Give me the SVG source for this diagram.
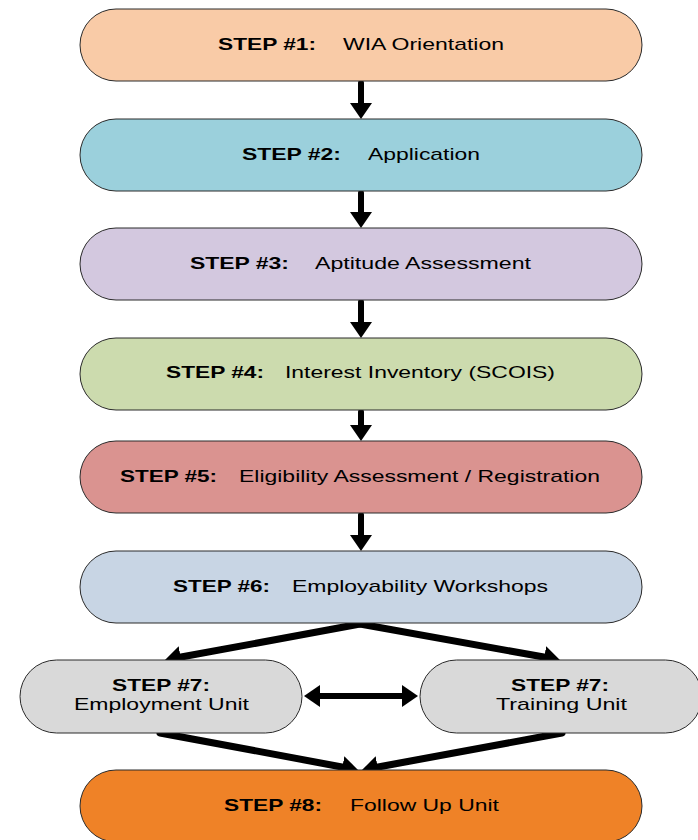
<svg xmlns="http://www.w3.org/2000/svg" width="698" height="840" viewBox="0 0 698 840">
<style>
.n{stroke:#2a2a2a;stroke-width:1}
.t{font-family:"Liberation Sans",Arial,sans-serif;font-size:17px;fill:#000}
.b{font-weight:bold}
.c{stroke:#000;fill:none;stroke-linecap:round}
</style>
<defs>
<marker id="ah" markerUnits="userSpaceOnUse" markerWidth="16" markerHeight="24" viewBox="0 0 16 24" refX="1" refY="12" orient="auto-start-reverse">
<path d="M0,1 L16,12 L0,23 z" fill="#000"/>
</marker>
</defs>
<rect width="698" height="840" fill="#fff"/>
<g id="connectors">
<line class="c" x1="361" y1="83" x2="361" y2="104" stroke-width="6" marker-end="url(#ah)"/>
<line class="c" x1="361" y1="193" x2="361" y2="213" stroke-width="6" marker-end="url(#ah)"/>
<line class="c" x1="361" y1="302" x2="361" y2="323" stroke-width="6" marker-end="url(#ah)"/>
<line class="c" x1="361" y1="412" x2="361" y2="426" stroke-width="6" marker-end="url(#ah)"/>
<line class="c" x1="361" y1="515" x2="361" y2="536" stroke-width="6" marker-end="url(#ah)"/>
<line class="c" x1="360" y1="624" x2="179.7" y2="657.3" stroke-width="7" marker-end="url(#ah)"/>
<line class="c" x1="360" y1="624" x2="545.2" y2="657.3" stroke-width="7" marker-end="url(#ah)"/>
<line class="c" x1="160" y1="733" x2="343.3" y2="767.2" stroke-width="7" marker-end="url(#ah)"/>
<line class="c" x1="562" y1="733" x2="376.7" y2="767.3" stroke-width="7" marker-end="url(#ah)"/>
<line class="c" x1="319" y1="696" x2="403" y2="696" stroke-width="6" style="stroke-linecap:butt" marker-start="url(#ah)" marker-end="url(#ah)"/>
</g>
<g id="step1">
<rect class="n" x="80" y="9" width="562" height="72" rx="36" fill="#F9CBA7"/>
<text class="t b" x="218" y="50" textLength="98" lengthAdjust="spacingAndGlyphs">STEP #1:</text>
<text class="t" x="343" y="50" textLength="161" lengthAdjust="spacingAndGlyphs">WIA Orientation</text>
</g>
<g id="step2">
<rect class="n" x="80" y="119" width="562" height="72" rx="36" fill="#9BD0DC"/>
<text class="t b" x="242" y="160" textLength="99" lengthAdjust="spacingAndGlyphs">STEP #2:</text>
<text class="t" x="368" y="160" textLength="112" lengthAdjust="spacingAndGlyphs">Application</text>
</g>
<g id="step3">
<rect class="n" x="80" y="228" width="562" height="72" rx="36" fill="#D3C8DF"/>
<text class="t b" x="190" y="269" textLength="99" lengthAdjust="spacingAndGlyphs">STEP #3:</text>
<text class="t" x="315" y="269" textLength="216" lengthAdjust="spacingAndGlyphs">Aptitude Assessment</text>
</g>
<g id="step4">
<rect class="n" x="80" y="338" width="562" height="72" rx="36" fill="#CCDBAE"/>
<text class="t b" x="166" y="378" textLength="98" lengthAdjust="spacingAndGlyphs">STEP #4:</text>
<text class="t" x="285" y="378" textLength="270" lengthAdjust="spacingAndGlyphs">Interest Inventory (SCOIS)</text>
</g>
<g id="step5">
<rect class="n" x="80" y="441" width="562" height="72" rx="36" fill="#DA9390"/>
<text class="t b" x="120" y="482" textLength="97" lengthAdjust="spacingAndGlyphs">STEP #5:</text>
<text class="t" x="239" y="482" textLength="361" lengthAdjust="spacingAndGlyphs">Eligibility Assessment / Registration</text>
</g>
<g id="step6">
<rect class="n" x="80" y="551" width="562" height="72" rx="36" fill="#C8D5E4"/>
<text class="t b" x="173" y="592" textLength="97" lengthAdjust="spacingAndGlyphs">STEP #6:</text>
<text class="t" x="292" y="592" textLength="256" lengthAdjust="spacingAndGlyphs">Employability Workshops</text>
</g>
<g id="step7a">
<rect class="n" x="20" y="660" width="282" height="73" rx="36.5" fill="#D9D9D9"/>
<text class="t b" x="112" y="691" textLength="98" lengthAdjust="spacingAndGlyphs">STEP #7:</text>
<text class="t" x="74" y="710" textLength="175" lengthAdjust="spacingAndGlyphs">Employment Unit</text>
</g>
<g id="step7b">
<rect class="n" x="420" y="660" width="282" height="73" rx="36.5" fill="#D9D9D9"/>
<text class="t b" x="511" y="691" textLength="98" lengthAdjust="spacingAndGlyphs">STEP #7:</text>
<text class="t" x="496" y="710" textLength="131" lengthAdjust="spacingAndGlyphs">Training Unit</text>
</g>
<g id="step8">
<rect class="n" x="80" y="770" width="562" height="72" rx="36" fill="#EF8227"/>
<text class="t b" x="224" y="811" textLength="98" lengthAdjust="spacingAndGlyphs">STEP #8:</text>
<text class="t" x="350" y="811" textLength="149" lengthAdjust="spacingAndGlyphs">Follow Up Unit</text>
</g>
</svg>
